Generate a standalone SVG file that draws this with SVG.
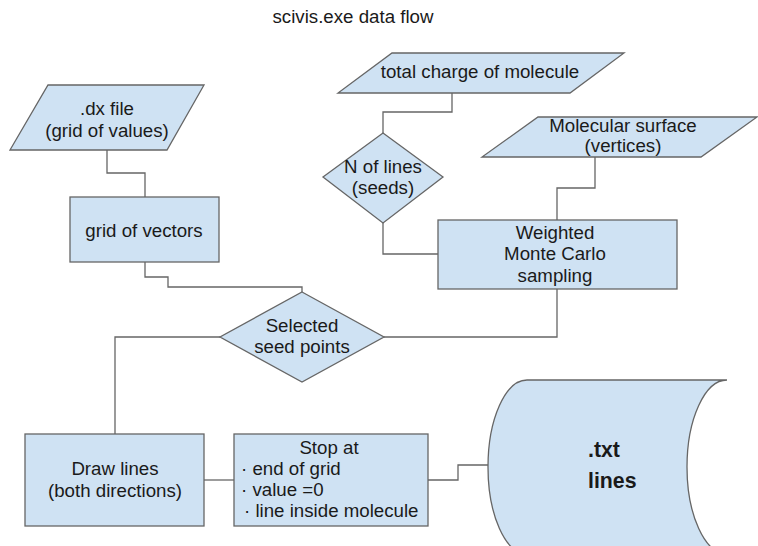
<svg xmlns="http://www.w3.org/2000/svg" width="758" height="546" viewBox="0 0 758 546">
<style>
.s{fill:#cfe2f3;stroke:#666666;stroke-width:1.3}
.c{fill:none;stroke:#666666;stroke-width:1.3}
text{font-family:"Liberation Sans",Arial,sans-serif;font-size:18.7px;fill:#1a1a1a}
.m{text-anchor:middle}
.b{font-weight:bold;font-size:21.3px}
</style>
<rect width="758" height="546" fill="#ffffff"/>
<text class="m" x="353" y="23">scivis.exe data flow</text>
<g id="connectors">
<path class="c" d="M107,150 V173 H145 V197"/>
<path class="c" d="M145,262 V277 H168 V287 H302 V292"/>
<path class="c" d="M452,93 V112 H383 V133"/>
<path class="c" d="M383,223 V254 H438"/>
<path class="c" d="M595,157 V188 H557 V220"/>
<path class="c" d="M557,289 V337 H384"/>
<path class="c" d="M220,337 H115 V434"/>
<path class="c" d="M204,480 H234"/>
<path class="c" d="M428,480 H458 V465 H488"/>
</g>
<g id="dx">
<polygon class="s" points="48,85 204,85 167,150 10,150"/>
<text class="m" x="107" y="115">.dx file</text>
<text class="m" x="107" y="137">(grid of values)</text>
</g>
<g id="grid">
<rect class="s" x="70" y="197" width="149" height="65"/>
<text class="m" x="144" y="237">grid of vectors</text>
</g>
<g id="charge">
<polygon class="s" points="392,53 624,53 570,93 338,93"/>
<text class="m" x="480" y="78">total charge of molecule</text>
</g>
<g id="nlines">
<polygon class="s" points="383,133 443,177 383,223 323,177"/>
<text class="m" x="383" y="173">N of lines</text>
<text class="m" x="383" y="194">(seeds)</text>
</g>
<g id="surface">
<polygon class="s" points="538,117 757,117 701,157 482,157"/>
<text class="m" x="623" y="132">Molecular surface</text>
<text class="m" x="623" y="152">(vertices)</text>
</g>
<g id="montecarlo">
<rect class="s" x="438" y="220" width="239" height="69"/>
<text class="m" x="555" y="239">Weighted</text>
<text class="m" x="555" y="260">Monte Carlo</text>
<text class="m" x="555" y="282">sampling</text>
</g>
<g id="seeds">
<polygon class="s" points="302,292 384,337 302,382 220,337"/>
<text class="m" x="302" y="332">Selected</text>
<text class="m" x="302" y="353">seed points</text>
</g>
<g id="draw">
<rect class="s" x="25" y="434" width="179" height="92"/>
<text class="m" x="115" y="475">Draw lines</text>
<text class="m" x="115" y="497">(both directions)</text>
</g>
<g id="stop">
<rect class="s" x="234" y="434" width="194" height="92"/>
<text class="m" x="329" y="454">Stop at</text>
<text x="241" y="475">· end of grid</text>
<text x="241" y="496">· value =0</text>
<text x="244" y="517">· line inside molecule</text>
</g>
<g id="txt">
<path class="s" d="M527,380 H727 A40,87 0 0 0 727,554 H527 A39,87 0 0 1 527,380 Z"/>
<text class="b" x="588" y="457">.txt</text>
<text class="b" x="588" y="488">lines</text>
</g>
</svg>
